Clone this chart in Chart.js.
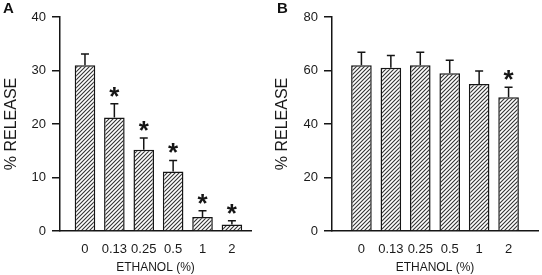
<!DOCTYPE html>
<html>
<head>
<meta charset="utf-8">
<script src="https://cdn.jsdelivr.net/npm/chart.js@4.4.1/dist/chart.umd.min.js"></script>
<style>
  body { margin: 0; background: #fff; }
  #wrap { position: relative; width: 542px; height: 275px; font-family: "Liberation Sans", Arial, sans-serif; }
  .panel { position: absolute; top: 0; width: 271px; height: 275px; }
  .letter { position: absolute; top: -1px; font-weight: bold; font-size: 15px; line-height: 17px; color: #111; }
</style>
</head>
<body>
<div id="wrap">
  <div class="panel" style="left:0"><canvas id="chartA" width="271" height="275"></canvas></div>
  <div class="panel" style="left:271px"><canvas id="chartB" width="271" height="275"></canvas></div>
  <div class="letter" style="left:3px">A</div>
  <div class="letter" style="left:277px">B</div>
</div>
<script>
const categories = ['0', '0.13', '0.25', '0.5', '1', '2'];

// panel A
const releaseA = [31.0, 21.2, 15.2, 11.1, 2.6, 1.2];
const errorA = [2.1, 2.6, 2.2, 2.1, 1.2, 0.7];
const signifA = [false, true, true, true, true, true];
const ticksA = [0, 10, 20, 30, 40];

// panel B
const releaseB = [62, 61, 62, 59, 55, 50];
const errorB = [4.8, 4.6, 4.8, 4.8, 4.8, 3.7];
const signifB = [false, false, false, false, false, true];
const ticksB = [0, 20, 40, 60, 80];

const ink = '#151515';
const font = '"Liberation Sans", Arial, sans-serif';

function hatchPattern() {
  const c = document.createElement('canvas');
  c.width = 4; c.height = 4;
  const g = c.getContext('2d');
  g.fillStyle = '#fff';
  g.fillRect(0, 0, 4, 4);
  g.strokeStyle = '#333';
  g.lineWidth = 1.1;
  g.beginPath();
  g.moveTo(0, 4); g.lineTo(4, 0);
  g.moveTo(-1, 1); g.lineTo(1, -1);
  g.moveTo(3, 5); g.lineTo(5, 3);
  g.stroke();
  return g.createPattern(c, 'repeat');
}

// upper error bars + significance stars
const errorBars = {
  id: 'errorBars',
  afterDatasetsDraw(chart, args, opts) {
    const { ctx } = chart;
    const y = chart.scales.y;
    const meta = chart.getDatasetMeta(0);
    const data = chart.data.datasets[0].data;
    ctx.save();
    ctx.strokeStyle = ink;
    ctx.lineWidth = 1.5;
    meta.data.forEach((bar, i) => {
      const top = y.getPixelForValue(data[i].y + opts.errors[i]);
      ctx.beginPath();
      ctx.moveTo(bar.x, bar.y);
      ctx.lineTo(bar.x, top);
      ctx.moveTo(bar.x - 4, top);
      ctx.lineTo(bar.x + 4, top);
      ctx.stroke();
      if (opts.signif[i]) {
        ctx.fillStyle = ink;
        ctx.font = 'bold 26px ' + font;
        ctx.textAlign = 'center';
        ctx.textBaseline = 'alphabetic';
        ctx.fillText('*', bar.x, top + 1);
      }
    });
    ctx.restore();
  }
};

function makePanel(id, values, errors, signif, yTicks, xMin, xMax, axisWidth, rightPad) {
  return new Chart(document.getElementById(id), {
    type: 'bar',
    data: {
      datasets: [{
        data: values.map((v, i) => ({ x: i, y: v })),
        backgroundColor: hatchPattern(),
        borderColor: ink,
        borderWidth: 1.5,
        barPercentage: 0.7,
        categoryPercentage: 1.0,
      }],
    },
    options: {
      responsive: false,
      animation: false,
      layout: { padding: { top: 17, right: rightPad, left: 0, bottom: 0 } },
      plugins: {
        legend: { display: false },
        tooltip: { enabled: false },
        errorBars: { errors, signif },
      },
      scales: {
        x: {
          type: 'linear',
          offset: false,
          min: xMin,
          max: xMax,
          afterBuildTicks: (s) => { s.ticks = categories.map((_, i) => ({ value: i })); },
          afterFit: (s) => { s.height = 44; },
          ticks: { callback: (v) => categories[v], color: '#1a1a1a', font: { family: font, size: 13 }, padding: 11, autoSkip: false, maxRotation: 0 },
          grid: { display: false, drawTicks: false },
          border: { display: true, color: ink, width: 1.5 },
          title: { display: true, text: 'ETHANOL (%)', color: '#1a1a1a', font: { family: font, size: 12 }, padding: { top: 0, bottom: 0 } },
        },
        y: {
          min: yTicks[0],
          max: yTicks[yTicks.length - 1],
          afterBuildTicks: (s) => { s.ticks = yTicks.map((v) => ({ value: v })); },
          afterFit: (s) => { s.width = axisWidth; },
          ticks: { color: '#1a1a1a', font: { family: font, size: 13 }, padding: 6 },
          grid: { drawOnChartArea: false, drawTicks: true, tickLength: 8, color: ink, lineWidth: 1.5 },
          border: { display: true, color: ink, width: 1.5 },
          title: { display: true, text: '% RELEASE', color: '#1a1a1a', font: { family: font, size: 16 }, padding: { top: 1.5, bottom: 0 } },
        },
      },
    },
    plugins: [errorBars],
  });
}

makePanel('chartA', releaseA, errorA, signifA, ticksA, -0.85, 5.65, 60, 20);
makePanel('chartB', releaseB, errorB, signifB, ticksB, -1.0, 6.0, 61, 4);
</script>
</body>
</html>
